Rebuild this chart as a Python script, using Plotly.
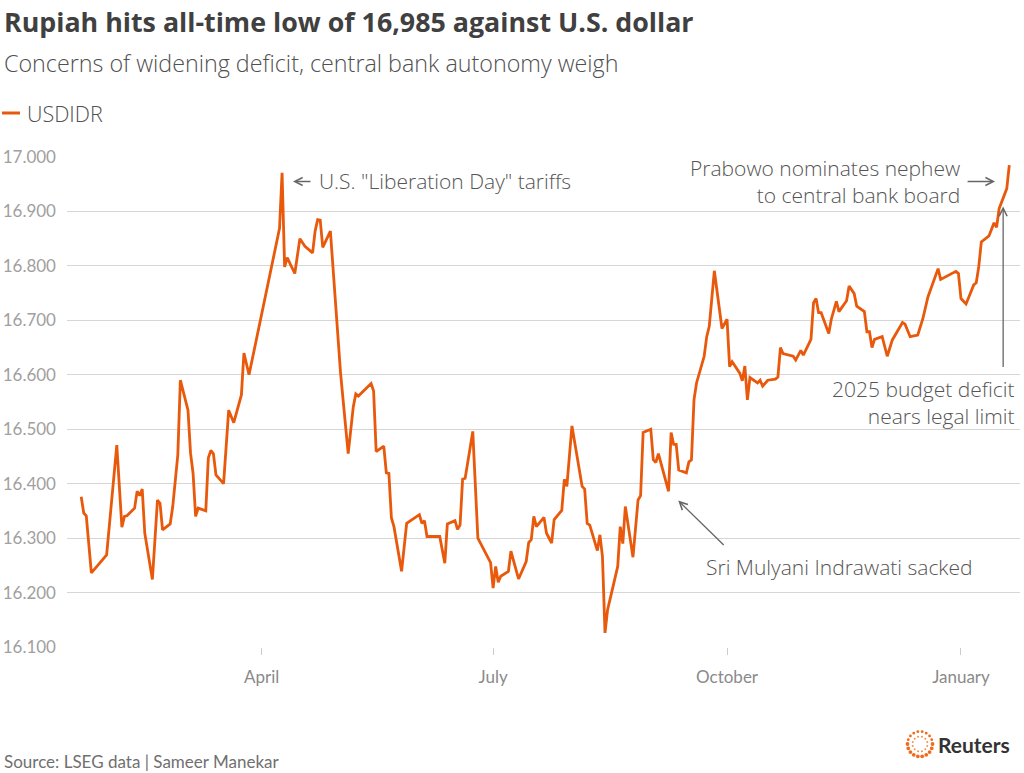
import math
import plotly.graph_objects as go

# ---------------- data ----------------
dates = [
    "2025-01-20", "2025-01-21", "2025-01-22", "2025-01-24", "2025-01-30",
    "2025-02-03", "2025-02-05", "2025-02-06", "2025-02-07", "2025-02-10",
    "2025-02-11", "2025-02-12", "2025-02-13", "2025-02-14", "2025-02-17",
    "2025-02-19", "2025-02-20", "2025-02-21", "2025-02-24", "2025-02-25",
    "2025-02-27", "2025-02-28", "2025-03-03", "2025-03-04", "2025-03-05",
    "2025-03-06", "2025-03-07", "2025-03-10", "2025-03-11", "2025-03-12",
    "2025-03-13", "2025-03-14", "2025-03-17", "2025-03-19", "2025-03-21",
    "2025-03-24", "2025-03-25", "2025-03-27", "2025-04-08", "2025-04-09",
    "2025-04-10", "2025-04-11", "2025-04-14", "2025-04-16", "2025-04-18",
    "2025-04-21", "2025-04-22", "2025-04-23", "2025-04-24", "2025-04-25",
    "2025-04-28", "2025-05-02", "2025-05-05", "2025-05-07", "2025-05-08",
    "2025-05-09", "2025-05-14", "2025-05-15", "2025-05-16", "2025-05-19",
    "2025-05-20", "2025-05-21", "2025-05-22", "2025-05-23", "2025-05-26",
    "2025-05-28", "2025-06-02", "2025-06-03", "2025-06-04", "2025-06-05",
    "2025-06-10", "2025-06-12", "2025-06-13", "2025-06-16", "2025-06-17",
    "2025-06-18", "2025-06-19", "2025-06-20", "2025-06-23", "2025-06-25",
    "2025-06-30", "2025-07-01", "2025-07-02", "2025-07-03", "2025-07-04",
    "2025-07-07", "2025-07-08", "2025-07-09", "2025-07-11", "2025-07-14",
    "2025-07-15", "2025-07-16", "2025-07-17", "2025-07-18", "2025-07-21",
    "2025-07-22", "2025-07-24", "2025-07-25", "2025-07-28", "2025-07-29",
    "2025-07-30", "2025-08-01", "2025-08-05", "2025-08-06", "2025-08-07",
    "2025-08-08", "2025-08-11", "2025-08-12", "2025-08-13", "2025-08-14",
    "2025-08-15", "2025-08-19", "2025-08-20", "2025-08-21", "2025-08-22",
    "2025-08-25", "2025-08-27", "2025-08-28", "2025-08-29", "2025-09-01",
    "2025-09-02", "2025-09-03", "2025-09-04", "2025-09-08", "2025-09-09",
    "2025-09-10", "2025-09-11", "2025-09-12", "2025-09-15", "2025-09-16",
    "2025-09-17", "2025-09-18", "2025-09-19", "2025-09-22", "2025-09-23",
    "2025-09-24", "2025-09-26", "2025-09-29", "2025-10-01", "2025-10-02",
    "2025-10-03", "2025-10-06", "2025-10-07", "2025-10-08", "2025-10-09",
    "2025-10-10", "2025-10-13", "2025-10-14", "2025-10-15", "2025-10-17",
    "2025-10-20", "2025-10-21", "2025-10-22", "2025-10-23", "2025-10-27",
    "2025-10-28", "2025-10-30", "2025-10-31", "2025-11-03", "2025-11-04",
    "2025-11-05", "2025-11-06", "2025-11-07", "2025-11-10", "2025-11-11",
    "2025-11-13", "2025-11-14", "2025-11-17", "2025-11-18", "2025-11-20",
    "2025-11-21", "2025-11-24", "2025-11-25", "2025-11-26", "2025-11-27",
    "2025-11-28", "2025-12-01", "2025-12-03", "2025-12-05", "2025-12-09",
    "2025-12-10", "2025-12-12", "2025-12-15", "2025-12-17", "2025-12-19",
    "2025-12-23", "2025-12-24", "2025-12-30", "2025-12-31", "2026-01-01",
    "2026-01-03", "2026-01-06", "2026-01-07", "2026-01-08", "2026-01-09",
    "2026-01-12", "2026-01-14", "2026-01-15", "2026-01-16", "2026-01-19",
    "2026-01-20",
]
usdidr = [
    16376, 16346, 16341, 16236, 16269,
    16471, 16320, 16340, 16341, 16355,
    16386, 16378, 16390, 16309, 16224,
    16370, 16364, 16315, 16326, 16358,
    16453, 16590, 16535, 16456, 16419,
    16340, 16355, 16350, 16447, 16461,
    16455, 16416, 16400, 16535, 16512,
    16563, 16640, 16600, 16869, 16971,
    16798, 16815, 16786, 16850, 16836,
    16824, 16864, 16885, 16884, 16834,
    16864, 16603, 16455, 16541, 16565,
    16561, 16584, 16570, 16459, 16469,
    16420, 16419, 16337, 16321, 16239,
    16327, 16343, 16327, 16332, 16303,
    16303, 16254, 16326, 16332, 16316,
    16324, 16408, 16410, 16496, 16300,
    16255, 16208, 16248, 16219, 16230,
    16239, 16276, 16260, 16225, 16257,
    16292, 16297, 16340, 16321, 16338,
    16309, 16291, 16334, 16351, 16408,
    16395, 16506, 16395, 16390, 16327,
    16324, 16277, 16306, 16266, 16126,
    16168, 16248, 16321, 16290, 16358,
    16265, 16370, 16378, 16494, 16500,
    16444, 16439, 16455, 16386, 16494,
    16472, 16472, 16425, 16420, 16440,
    16444, 16554, 16585, 16634, 16670,
    16689, 16791, 16685, 16702, 16615,
    16624, 16603, 16589, 16616, 16554,
    16595, 16585, 16590, 16579, 16590,
    16592, 16596, 16650, 16639, 16634,
    16627, 16645, 16636, 16665, 16732,
    16740, 16714, 16714, 16676, 16702,
    16735, 16716, 16736, 16763, 16749,
    16726, 16716, 16679, 16679, 16650,
    16665, 16670, 16634, 16664, 16696,
    16693, 16670, 16673, 16703, 16743,
    16795, 16775, 16790, 16786, 16740,
    16730, 16765, 16769, 16799, 16844,
    16855, 16879, 16871, 16905, 16942,
    16985,
]
y_tick_values = [16100, 16200, 16300, 16400, 16500, 16600, 16700, 16800, 16900, 17000]
y_tick_labels = ["16.100", "16.200", "16.300", "16.400", "16.500",
                 "16.600", "16.700", "16.800", "16.900", "17.000"]
x_tick_dates = ["2025-04-01", "2025-07-01", "2025-10-01", "2026-01-01"]
x_tick_labels = ["April", "July", "October", "January"]
x_range = ["2025-01-14 10:00", "2026-01-24 05:00"]
y_range = [16100, 17000]

# ---------------- layout helpers ----------------
W, H = 1024, 773
L, R, T, B = 67, 4, 157, 126
PW, PH = W - L - R, H - T - B
FONT = "Lato"
FONT2 = "Open Sans"
ORANGE = "#E8590C"


def px(x):
    return (x - L) / PW


def py(y):
    return (H - B - y) / PH


fig = go.Figure()
fig.add_trace(go.Scatter(
    x=dates, y=usdidr, mode="lines", name="USDIDR",
    line=dict(color=ORANGE, width=2.8), hoverinfo="x+y",
))

annotations = []


def text(x, y, s, size, color, xanchor="left", weight="normal", align="left", family=FONT2):
    annotations.append(dict(
        xref="paper", yref="paper", x=px(x), y=py(y), text=s, showarrow=False,
        xanchor=xanchor, yanchor="middle", align=align,
        font=dict(family=family, size=size, color=color, weight=weight),
    ))


text(2, 21, "Rupiah hits all-time low of 16,985 against U.S. dollar", 26.8, "#404040", weight="bold")
text(2, 63, "Concerns of widening deficit, central bank autonomy weigh", 23.3, "#505050", weight=300)
text(25, 113, "USDIDR", 21.5, "#505050", weight=300)
text(2, 761, "Source: LSEG data | Sameer Manekar", 17, "#707070", family=FONT)
text(936, 744, "Reuters", 21, "#333333", weight="bold", family=FONT)

# event labels
ANN = "#555555"
AS = 21
text(317, 181, "U.S. \"Liberation Day\" tariffs", AS, ANN, weight=300)
text(962, 182, "Prabowo nominates nephew<br>to central bank board", AS, ANN, xanchor="right", align="right", weight=300)
text(1017, 402, "2025 budget deficit<br>nears legal limit", AS, ANN, xanchor="right", align="right", weight=300)
text(704, 567, "Sri Mulyani Indrawati sacked", AS, ANN, weight=300)

# arrows (heads anchored on data coordinates)
arrow_style = dict(showarrow=True, arrowhead=5, arrowsize=1.2, arrowwidth=1.3,
                   arrowcolor="#666666", axref="pixel", ayref="pixel", text="")
annotations.append(dict(x="2025-04-13 07:00", y=16955, ax=19, ay=0, **arrow_style))
annotations.append(dict(x="2026-01-14 10:00", y=16955, ax=-29, ay=0, **arrow_style))
annotations.append(dict(x="2026-01-17 14:00", y=16909, ax=0, ay=162, **arrow_style))
annotations.append(dict(x="2025-09-11 19:00", y=16369, ax=47, ay=46, **arrow_style))

# legend swatch and logo dots (decoration)
shapes = [dict(type="line", xref="paper", yref="paper", x0=px(2), x1=px(20), y0=py(113), y1=py(113),
               line=dict(color=ORANGE, width=3))]
cx, cy = px(920), py(744)
for i in range(18):
    a = 2 * math.pi * i / 18
    r = 1.9 if (math.sin(a) < 0.2) else 1.4
    dx, dy = 12.5 * math.cos(a), 12.5 * math.sin(a)
    shapes.append(dict(type="circle", xref="paper", yref="paper", xsizemode="pixel", ysizemode="pixel",
                       xanchor=cx, yanchor=cy, x0=dx - r, x1=dx + r, y0=dy - r, y1=dy + r,
                       fillcolor="#F26A1B", line=dict(width=0)))
for i in range(12):
    a = 2 * math.pi * (i + 0.5) / 12
    r = 1.0
    dx, dy = 7.5 * math.cos(a), 7.5 * math.sin(a)
    shapes.append(dict(type="circle", xref="paper", yref="paper", xsizemode="pixel", ysizemode="pixel",
                       xanchor=cx, yanchor=cy, x0=dx - r, x1=dx + r, y0=dy - r, y1=dy + r,
                       fillcolor="#F6904F", line=dict(width=0)))

fig.update_layout(
    width=W, height=H, margin=dict(l=L, r=R, t=T, b=B, pad=0),
    paper_bgcolor="white", plot_bgcolor="white", showlegend=False,
    font=dict(family=FONT, color="#555555"),
    annotations=annotations, shapes=shapes,
    xaxis=dict(
        type="date", range=x_range, tickmode="array", tickvals=x_tick_dates, ticktext=x_tick_labels,
        showgrid=False, zeroline=False, showline=False, ticks="outside", ticklen=7,
        tickcolor="#cccccc", tickwidth=1, ticklabelstandoff=8,
        tickfont=dict(family=FONT, size=17, color="#8a8a8a"),
    ),
    yaxis=dict(
        range=y_range, tickmode="array", tickvals=y_tick_values, ticktext=y_tick_labels,
        showgrid=True, gridcolor="#d6d6d6", gridwidth=1, zeroline=False, showline=False,
        ticks="", ticklabelstandoff=10,
        tickfont=dict(family=FONT, size=17, color="#a0a0a0"),
    ),
)

fig.write_html("out.html")
